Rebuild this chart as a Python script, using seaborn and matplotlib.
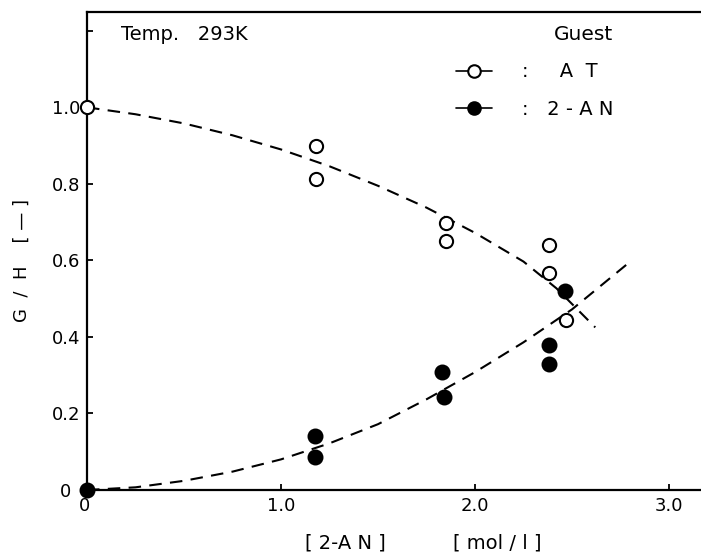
import matplotlib
matplotlib.use("Agg")
import matplotlib.pyplot as plt
import matplotlib.transforms as mtransforms
import seaborn as sns
import pandas as pd
from matplotlib.lines import Line2D

at_x = [0.0, 1.18, 1.18, 1.85, 1.85, 2.38, 2.38, 2.47]
at_y = [1.0, 0.90, 0.814, 0.697, 0.651, 0.641, 0.567, 0.445]
an_x = [0.0, 1.175, 1.175, 1.83, 1.84, 2.38, 2.38, 2.466]
an_y = [0.0, 0.142, 0.086, 0.308, 0.243, 0.380, 0.328, 0.521]

# dashed guide curves
at_curve_x = [0.0, 0.25, 0.5, 0.75, 1.0, 1.25, 1.5, 1.75, 2.0, 2.25, 2.42, 2.62]
at_curve_y = [1.0, 0.982, 0.958, 0.927, 0.89, 0.846, 0.795, 0.738, 0.672, 0.597, 0.527, 0.425]
an_curve_x = [0.0, 0.25, 0.5, 0.75, 1.0, 1.25, 1.5, 1.75, 2.0, 2.25, 2.5, 2.81]
an_curve_y = [0.0, 0.007, 0.024, 0.048, 0.08, 0.122, 0.172, 0.237, 0.308, 0.386, 0.472, 0.601]

x_ticks = [0, 1, 2, 3]
x_ticklabels = ["0", "1.0", "2.0", "3.0"]
y_ticks = [0, 0.2, 0.4, 0.6, 0.8, 1.0, 1.2]
y_ticklabels = ["0", "0.2", "0.4", "0.6", "0.8", "1.0", ""]

sns.set_style("ticks", {"xtick.direction": "in", "ytick.direction": "in",
                        "text.color": "black", "axes.labelcolor": "black",
                        "xtick.color": "black", "ytick.color": "black",
                        "axes.edgecolor": "black"})
plt.rcParams["font.family"] = ["DejaVu Sans"]

fig = plt.figure(figsize=(7.01, 5.52), dpi=100)
ax = fig.add_axes([87 / 701, (552 - 490) / 552, (701 - 87) / 701, (490 - 11.7) / 552])

dash = (0, (6, 4))
sns.lineplot(x=at_curve_x, y=at_curve_y, estimator=None, sort=False, ax=ax,
             color="black", lw=1.5, linestyle=dash)
sns.lineplot(x=an_curve_x, y=an_curve_y, estimator=None, sort=False, ax=ax,
             color="black", lw=1.5, linestyle=dash)

pts = pd.DataFrame({"x": at_x + an_x, "y": at_y + an_y,
                    "guest": ["AT"] * len(at_x) + ["2-AN"] * len(an_x)})
sns.scatterplot(data=pts[pts.guest == "AT"], x="x", y="y", ax=ax, s=90,
                facecolor="white", edgecolor="black", linewidth=1.5,
                clip_on=False, zorder=5, legend=False)
sns.scatterplot(data=pts[pts.guest == "2-AN"], x="x", y="y", ax=ax, s=100,
                facecolor="black", edgecolor="black", linewidth=1.5,
                clip_on=False, zorder=5, legend=False)

ax.set_xlim(0, 3.165)
ax.set_ylim(0, 1.25)
ax.set_xticks(x_ticks)
ax.set_xticklabels(x_ticklabels)
ax.set_yticks(y_ticks)
ax.set_yticklabels(y_ticklabels)
ax.tick_params(direction="in", length=4, width=1.3, labelsize=13, pad=5)
for side in ["left", "bottom", "top"]:
    ax.spines[side].set_linewidth(1.6)
ax.spines["right"].set_visible(False)

# the "0" labels sit a little off in the original
lab0 = ax.get_yticklabels()[0]
lab0.set_transform(lab0.get_transform() + mtransforms.ScaledTranslation(-0.09, 0, fig.dpi_scale_trans))
labx0 = ax.get_xticklabels()[0]
labx0.set_transform(labx0.get_transform() + mtransforms.ScaledTranslation(-0.03, 0, fig.dpi_scale_trans))

ax.set_xlabel("")
ax.text(0.420, -0.111, "[ 2-A N ]", transform=ax.transAxes, fontsize=14,
        ha="center", va="center")
ax.text(0.668, -0.111, "[ mol / l ]", transform=ax.transAxes, fontsize=14,
        ha="center", va="center")
ax.set_ylabel("G  /  H    [ — ]", fontsize=13)
ax.yaxis.set_label_coords(-0.092, 0.48)

ax.text(0.056, 0.941, "Temp.   293K", transform=ax.transAxes, fontsize=14,
        va="baseline", ha="left")

handles = [
    Line2D([], [], color="black", lw=1.2, marker="o", ms=9, mfc="white", mec="black", mew=1.5),
    Line2D([], [], color="black", lw=1.2, marker="o", ms=9, mfc="black", mec="black", mew=1.5),
]
leg = ax.legend(handles, [":     A  T", ":   2 - A N"], title="Guest", frameon=False,
                loc="upper right", bbox_to_anchor=(0.885, 1.008), fontsize=14,
                title_fontsize=14.5, handlelength=1.85, handletextpad=1.5,
                labelspacing=0.93, alignment="right")

fig.savefig("out.png", dpi=100)
